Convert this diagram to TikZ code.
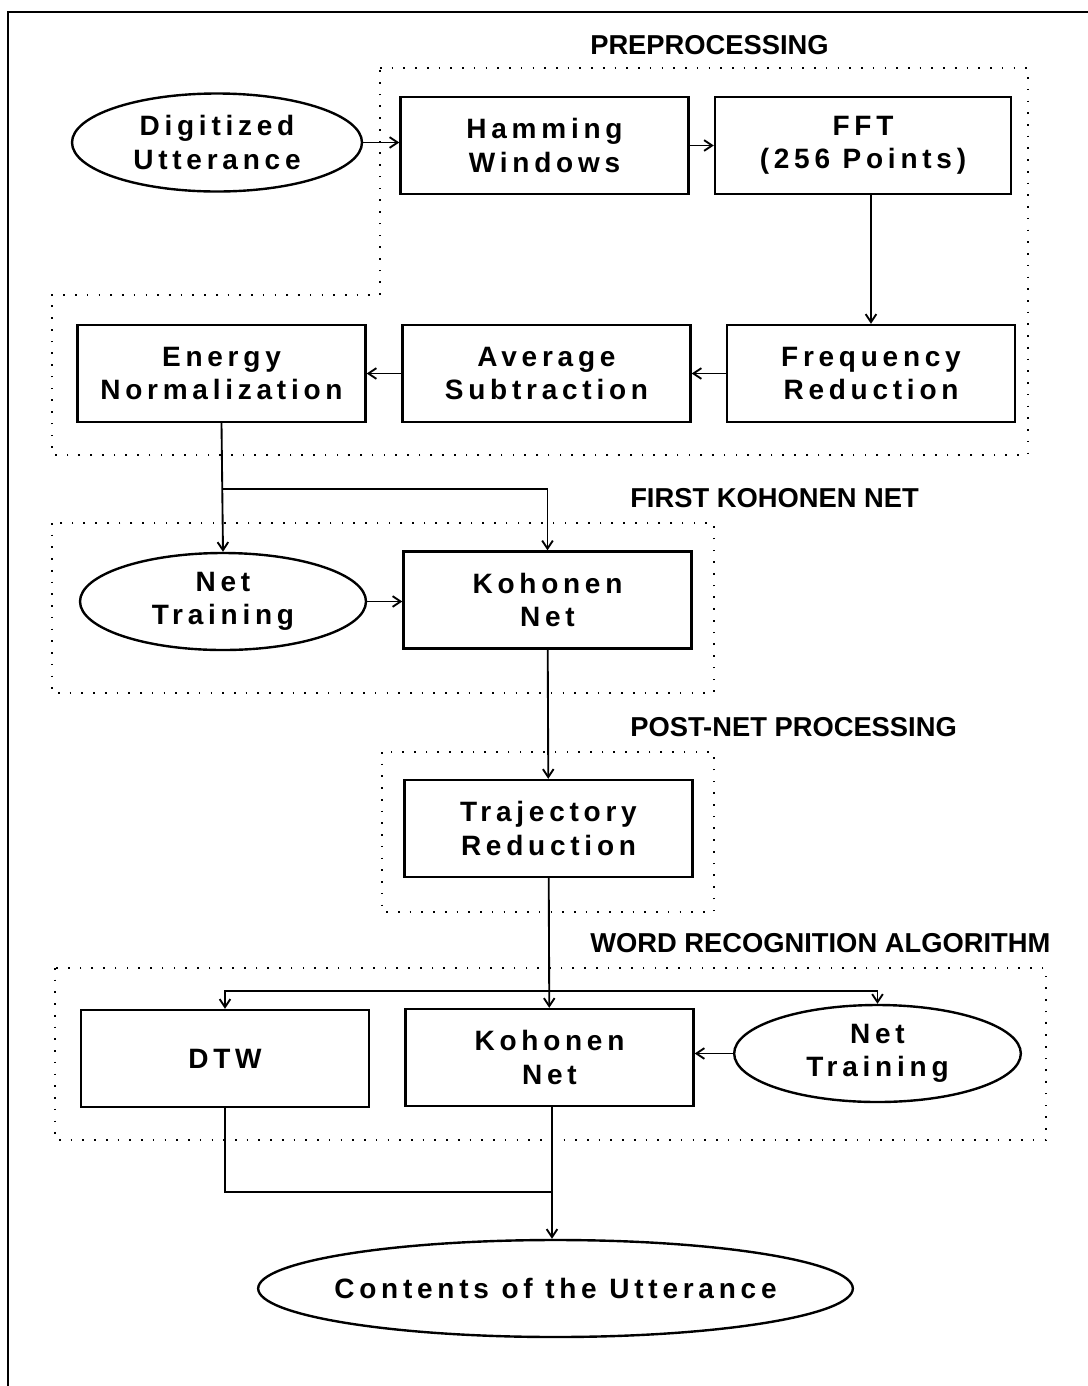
\documentclass[tikz,border=0pt]{standalone}
\usepackage{fontspec}
\usepackage{tikz}
\usetikzlibrary{shapes.geometric,arrows.meta}
\setmainfont{Liberation Sans}
\newfontfamily\blockfont{Liberation Sans}[LetterSpace=17]

\tikzset{
  block/.style={draw, line width=1.8pt, minimum width=216pt, minimum height=72.75pt, inner sep=0pt,
    align=center, font=\blockfont\bfseries\fontsize{21}{25}\selectfont},
  oval/.style={draw, ellipse, line width=1.8pt, inner sep=0pt, align=center,
    font=\blockfont\bfseries\fontsize{21}{25}\selectfont},
  stage/.style={anchor=west, inner sep=0pt, font=\bfseries\fontsize{20.5}{24}\selectfont},
  region/.style={line width=1.5pt, dash pattern=on 1.2pt off 7.6pt},
  link/.style={line width=1.4pt, >={Straight Barb[length=6pt,width=8pt,line width=1.4pt]}}
}

\begin{document}
\begin{tikzpicture}[x=0.75pt,y=0.75pt,yscale=-1,xscale=1]
\useasboundingbox (0,0) rectangle (1088,1386);

% frame
\draw[line width=2pt] (8,1390) -- (8,12) -- (1092,12);

% stage titles
\node[stage] (tpre)  at (590,45)  {PREPROCESSING};
\node[stage] (tkoh)  at (630,498) {FIRST KOHONEN NET};
\node[stage] (tpost) at (630,727) {POST-NET PROCESSING};
\node[stage] (tword) at (590,943) {WORD RECOGNITION ALGORITHM};

% dotted regions
\draw[region] (380,68) -- (1028,68) -- (1028,455) -- (52,455) -- (52,295) -- (380,295) -- cycle;
\draw[region] (52,523) rectangle (714,693);
\draw[region] (382,752) rectangle (714,912);
\draw[region] (55,968) rectangle (1046,1140);

% preprocessing
\node[oval, minimum width=217.5pt, minimum height=73.5pt] (dig) at (217,142.5) {Digitized\\Utterance};
\node[block] (hamm) at (544.5,145.5) {Hamming\\Windows};
\node[block, minimum width=222pt] (fft) at (863,145.5) {FFT\\(256 Points)};
\node[block] (freq) at (871,373.5) {Frequency\\Reduction};
\node[block] (avg) at (546.5,373.5) {Average\\Subtraction};
\node[block] (energy) at (221.5,373.5) {Energy\\Normalization};

% first kohonen net
\node[oval, minimum width=214.5pt, minimum height=72.75pt] (train1) at (223,601.5) {Net\\Training};
\node[block] (koh1) at (547.5,600) {Kohonen\\Net};
\coordinate (split1) at (222,489);

% post-net
\node[block] (traj) at (548.5,828.5) {Trajectory\\Reduction};

% word recognition
\node[block] (dtw) at (225,1058.5) {DTW};
\node[block] (koh2) at (549.5,1057.5) {Kohonen\\Net};
\node[oval, minimum width=215pt, minimum height=72.75pt] (train2) at (877.5,1053.5) {Net\\Training};
\coordinate (split2) at (549,991);
\coordinate (join) at (552,1192);
\node[oval, inner xsep=-12pt, minimum width=446pt, minimum height=72.75pt] (contents) at (555.5,1288.5) {Contents of the Utterance};

% connectors
\draw[link,->] (dig.east) -- (hamm.west |- dig.east);
\draw[link,->] (hamm) -- (fft);
\draw[link,->] (fft.south -| freq) -- (freq.north);
\draw[link,->] (freq) -- (avg);
\draw[link,->] (avg) -- (energy);
\draw[link,->] (energy.south) -- (train1.north);
\draw[link,->] (split1) -- (split1 -| koh1) -- (koh1.north);
\draw[link,->] (train1.east) -- (koh1.west |- train1.east);
\draw[link,->] (koh1) -- (traj);
\draw[link,->] (traj) -- (koh2);
\draw[link,<->] (dtw.north) -- (dtw.north |- split2) -- (train2.north |- split2) -- (train2.north);
\draw[link,->] (train2.west) -- (koh2.east |- train2.west);
\draw[link] (dtw.south) -- (dtw.south |- join) -- (join);
\draw[link,->] (koh2.south -| join) -- (contents.north -| join);

\end{tikzpicture}
\end{document}
